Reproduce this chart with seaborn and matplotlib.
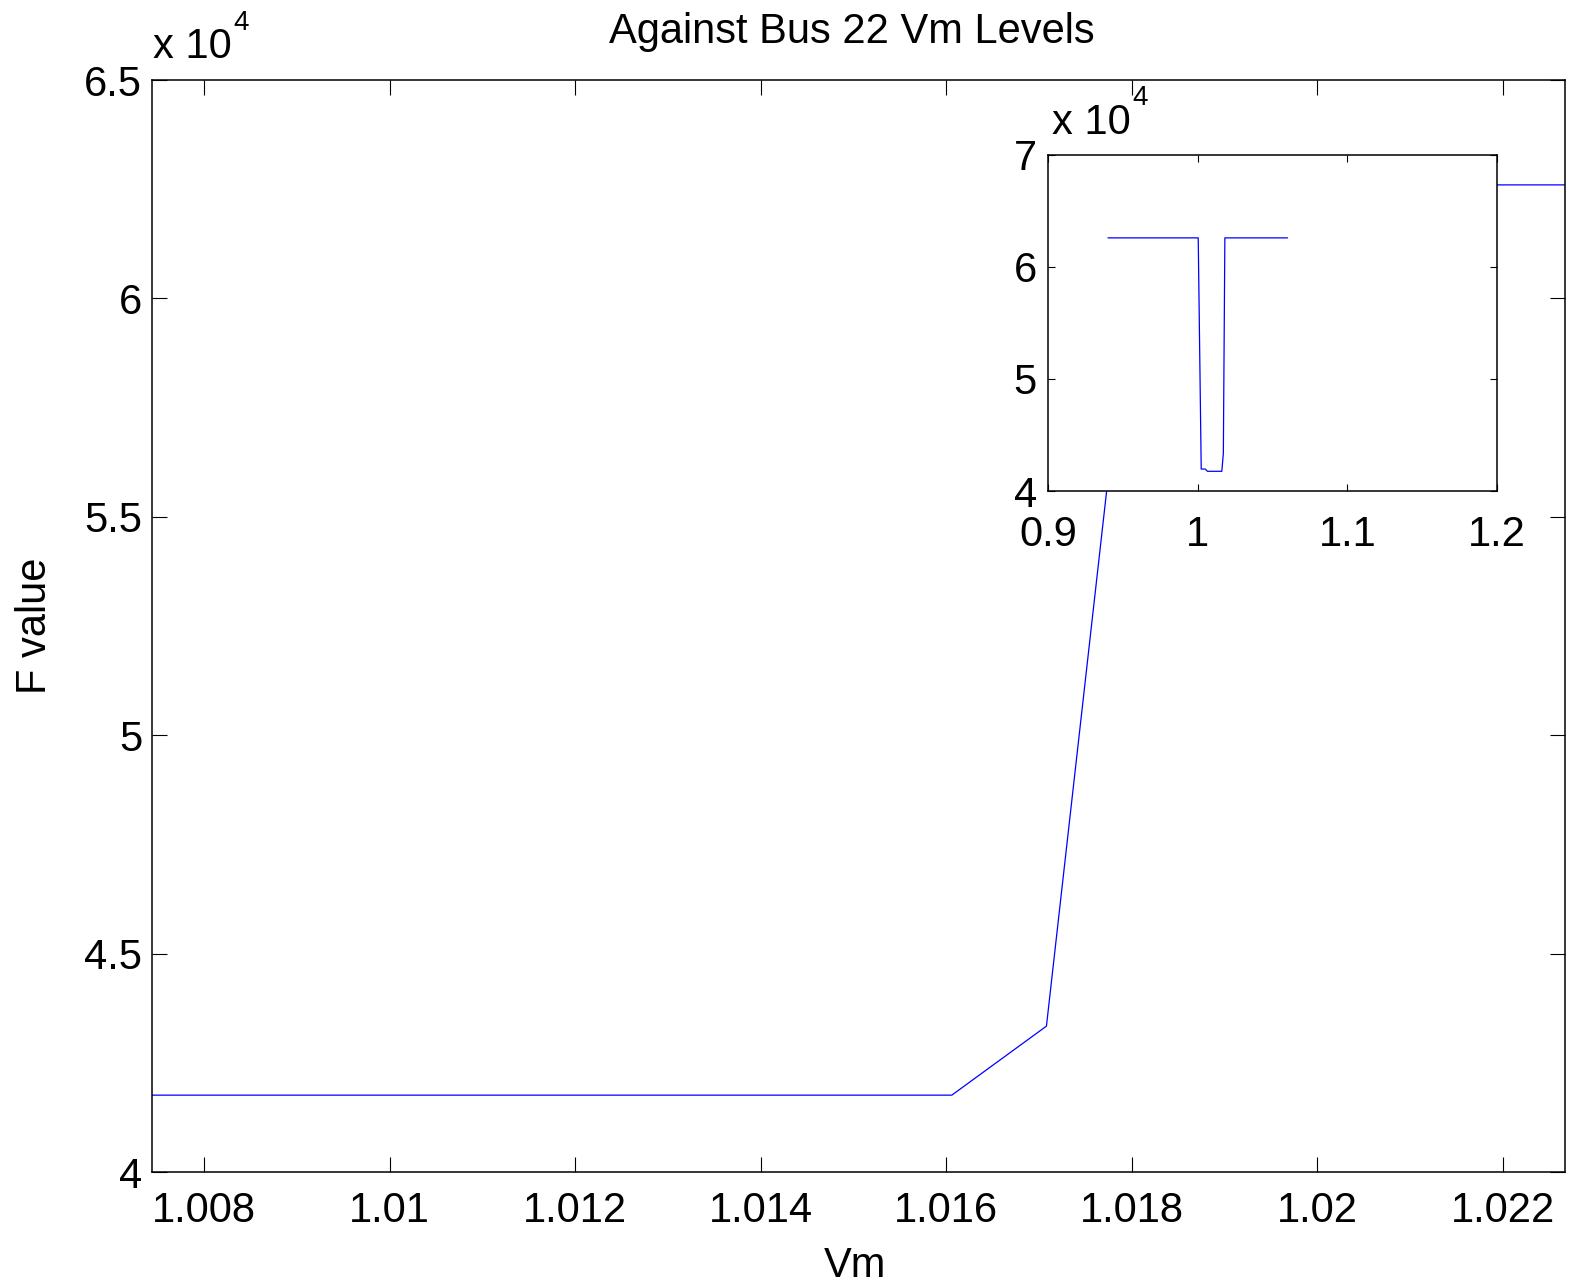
import matplotlib
matplotlib.use("Agg")
import matplotlib.pyplot as plt
from matplotlib.ticker import FuncFormatter
import seaborn as sns

sns.set_theme(style="white")
plt.rcParams["font.family"] = ["Liberation Sans", "DejaVu Sans"]
plt.rcParams["text.color"] = "black"

# F value against bus 22 voltage magnitude
vm = [0.94, 1.0003, 1.0023, 1.0050, 1.0065, 1.01606, 1.01708, 1.0181, 1.06]
fval = [62600, 62600, 41960, 41960, 41760, 41760, 43340, 62600, 62600]

main_xticks = [1.008, 1.01, 1.012, 1.014, 1.016, 1.018, 1.02, 1.022]
main_yticks = [40000, 45000, 50000, 55000, 60000, 65000]
inset_xticks = [0.9, 1.0, 1.1, 1.2]
inset_yticks = [40000, 50000, 60000, 70000]

fs = 30
sci = FuncFormatter(lambda v, p: f"{v / 1e4:g}")
plain = FuncFormatter(lambda v, p: f"{v:g}")


def matlab_axes(ax, ticklen, xpad, ypad):
    for s in ax.spines.values():
        s.set_color("black")
        s.set_linewidth(1.1)
    ax.tick_params(direction="in", length=ticklen, width=0.8, colors="black",
                   labelsize=fs, top=True, right=True, bottom=True, left=True)
    ax.tick_params(axis="x", pad=xpad)
    ax.tick_params(axis="y", pad=ypad)
    ax.grid(False)
    ax.set_xlabel("")
    ax.set_ylabel("")


def px(x, y):
    return x / 1569, 1 - y / 1283


fig = plt.figure(figsize=(15.69, 12.83), dpi=100)

ax = fig.add_axes([0.0969, 0.0865, 0.9006, 0.8511])
sns.lineplot(x=vm, y=fval, ax=ax, color="blue", lw=0.9, estimator=None, sort=False)
ax.set_xlim(1.00744, 1.02267)
ax.set_ylim(40000, 65000)
ax.set_xticks(main_xticks)
ax.set_yticks(main_yticks)
ax.xaxis.set_major_formatter(plain)
ax.yaxis.set_major_formatter(sci)
matlab_axes(ax, 11, 14, 7)

ins = fig.add_axes([0.668, 0.6173, 0.2862, 0.2619])
sns.lineplot(x=vm, y=fval, ax=ins, color="blue", lw=0.9, estimator=None, sort=False)
ins.set_facecolor("white")
ins.set_xlim(0.9, 1.2)
ins.set_ylim(40000, 70000)
ins.set_xticks(inset_xticks)
ins.set_yticks(inset_yticks)
ins.xaxis.set_major_formatter(plain)
ins.yaxis.set_major_formatter(sci)
matlab_axes(ins, 5, 17, 8)

fig.text(*px(852, 43), "Against Bus 22 Vm Levels", ha="center",
         va="baseline", fontsize=fs)
# exponent labels, MATLAB style
fig.text(*px(153, 58), "x 10", ha="left", va="baseline", fontsize=30)
fig.text(*px(233, 30), "4", ha="left", va="baseline", fontsize=20)
fig.text(*px(1052, 134), "x 10", ha="left", va="baseline", fontsize=30)
fig.text(*px(1132, 105), "4", ha="left", va="baseline", fontsize=20)
fig.text(*px(35, 626), "F value", rotation=90, ha="center",
         va="center", fontsize=fs)
fig.text(*px(855, 1277), "Vm", ha="center", va="baseline", fontsize=fs)

fig.savefig("out.png", dpi=100, facecolor="white")
